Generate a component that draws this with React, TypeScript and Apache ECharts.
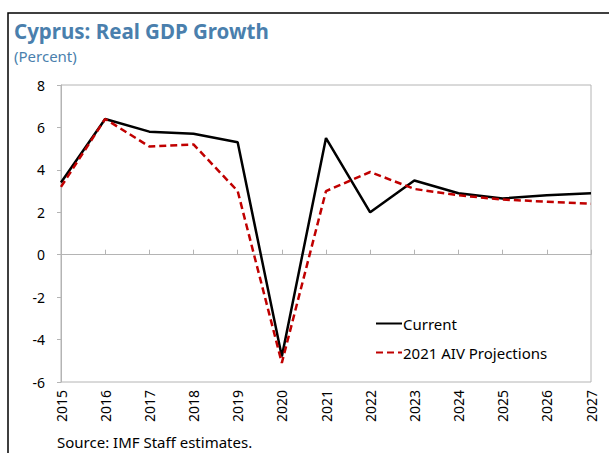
import React, { useEffect, useRef } from "react";
import * as echarts from "echarts";

const years = ["2015", "2016", "2017", "2018", "2019", "2020", "2021", "2022", "2023", "2024", "2025", "2026", "2027"];
const current = [3.4, 6.4, 5.8, 5.7, 5.3, -4.8, 5.5, 2.0, 3.5, 2.9, 2.65, 2.8, 2.9];
const aivProjections = [3.2, 6.4, 5.1, 5.2, 3.0, -5.1, 3.0, 3.9, 3.1, 2.8, 2.6, 2.5, 2.4];
const yTicks = { min: -6, max: 8, interval: 2 };

const FONT = "Noto Sans";
const BLUE = "#4a7fad";
const GRAY = "#b4b4b4";

export default function App() {
  const ref = useRef<HTMLDivElement>(null);
  useEffect(() => {
    if (!ref.current) return;
    const chart = echarts.init(ref.current, undefined, { renderer: "svg" });
    chart.setOption({
      animation: false,
      backgroundColor: "#ffffff",
      textStyle: { fontFamily: FONT },
      graphic: [
        {
          type: "rect",
          shape: { x: 8, y: 13, width: 640, height: 480 },
          style: { fill: "none", stroke: "#000", lineWidth: 1.5 },
          silent: true,
        },
        {
          type: "text",
          left: 14,
          top: 20,
          style: { text: "Cyprus: Real GDP Growth", fill: BLUE, font: `bold 20.5px "${FONT}"` },
        },
        {
          type: "text",
          left: 14,
          top: 48,
          style: { text: "(Percent)", fill: BLUE, font: `15px "${FONT}"` },
        },
        {
          type: "text",
          left: 57,
          top: 434,
          style: { text: "Source: IMF Staff estimates.", fill: "#000", font: `15px "${FONT}"` },
        },
      ],
      grid: {
        left: 61,
        right: 18,
        top: 85,
        bottom: 71,
        show: true,
        borderColor: GRAY,
        borderWidth: 1,
        containLabel: false,
      },
      legend: {
        orient: "vertical",
        left: 370,
        top: 311,
        itemWidth: 26,
        itemHeight: 10,
        itemGap: 14,
        data: ["Current", "2021 AIV Projections"],
        itemStyle: { opacity: 0 },
        textStyle: { fontSize: 15, color: "#000", fontFamily: FONT, padding: [0, 0, 0, -4] },
      },
      xAxis: [
        {
          type: "category",
          data: years,
          boundaryGap: false,
          position: "bottom",
          axisLine: { show: false, onZero: false },
          axisTick: { show: false },
          axisLabel: { rotate: 90, fontSize: 14, color: "#000", margin: 8, fontFamily: FONT },
          splitLine: { show: false },
        },
        {
          type: "category",
          data: years,
          boundaryGap: false,
          position: "top",
          axisLine: { show: true, onZero: true, lineStyle: { color: GRAY, width: 1 } },
          axisTick: { show: true, inside: false, length: 5, lineStyle: { color: GRAY } },
          axisLabel: { show: false },
          splitLine: { show: false },
        },
      ],
      yAxis: {
        type: "value",
        min: yTicks.min,
        max: yTicks.max,
        interval: yTicks.interval,
        axisLine: { show: true, lineStyle: { color: GRAY } },
        axisTick: { show: true, length: 4, lineStyle: { color: GRAY } },
        axisLabel: { fontSize: 14, color: "#000", margin: 16, fontFamily: FONT },
        splitLine: { show: false },
      },
      series: [
        {
          name: "Current",
          type: "line",
          data: current,
          symbol: "none",
          xAxisIndex: 0,
          lineStyle: { color: "#000", width: 2.5 },
          itemStyle: { color: "#000" },
          z: 3,
        },
        {
          name: "2021 AIV Projections",
          type: "line",
          data: aivProjections,
          symbol: "none",
          xAxisIndex: 0,
          lineStyle: { color: "#c00000", width: 2.5, type: [7, 4] },
          itemStyle: { color: "#c00000" },
          z: 4,
        },
      ],
    });
    return () => chart.dispose();
  }, []);
  return (
    <div
      ref={ref}
      style={{ position: "absolute", left: 0, top: 0, width: 609, height: 453, background: "#fff" }}
    />
  );
}
